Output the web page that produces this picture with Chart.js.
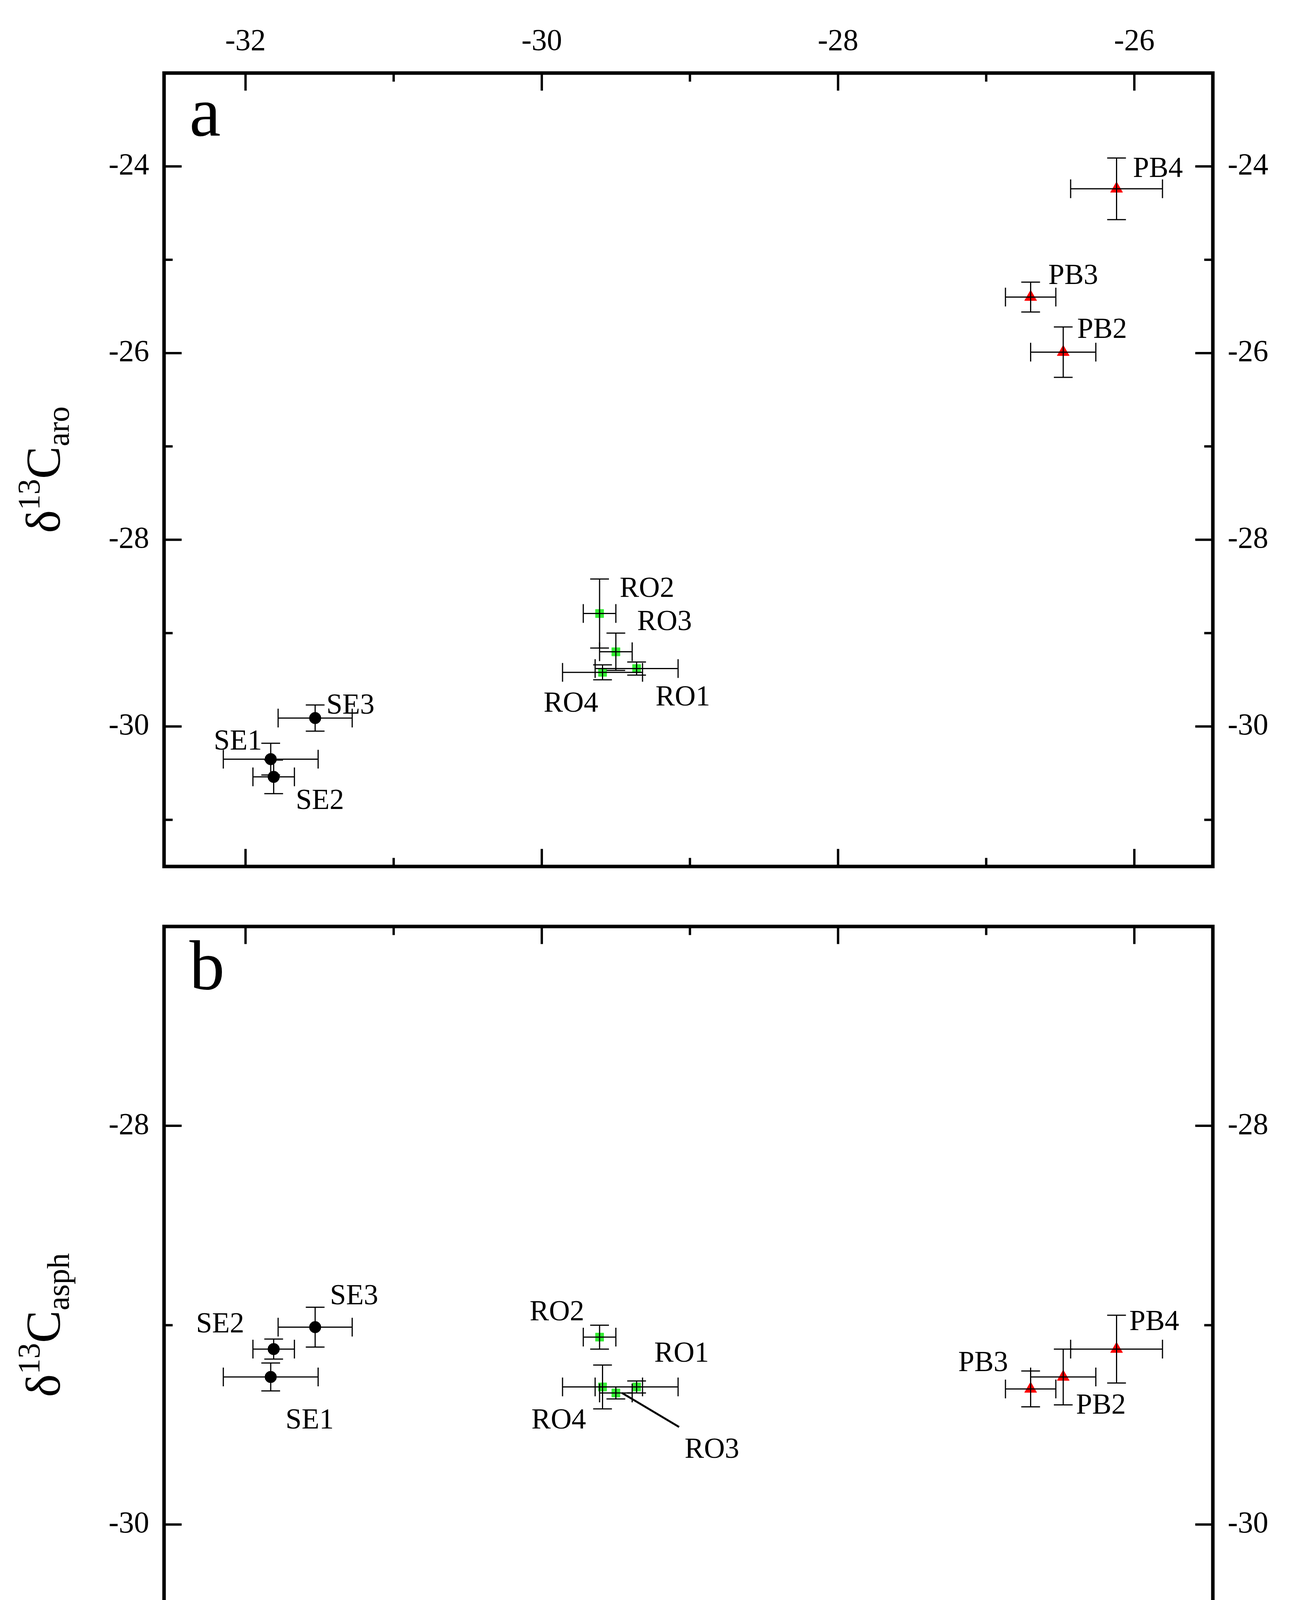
<!DOCTYPE html>
<html>
<head>
<meta charset="utf-8">
<script src="https://cdn.jsdelivr.net/npm/chart.js@4.4.1/dist/chart.umd.min.js"></script>
<style>
  body { margin: 0; background: #fff; }
  canvas { position: absolute; left: 0; }
  #cA { top: 0; }
  #cB { top: 2295px; }
</style>
</head>
<body>
<canvas id="cA" width="3323" height="2295" style="width:3323px;height:2295px"></canvas>
<canvas id="cB" width="3323" height="2599" style="width:3323px;height:2599px"></canvas>
<script>
// samples, in plotting order
var names = ['SE1', 'SE2', 'SE3', 'RO1', 'RO2', 'RO3', 'RO4', 'PB2', 'PB3', 'PB4'];
var groups = ['SE', 'SE', 'SE', 'RO', 'RO', 'RO', 'RO', 'PB', 'PB', 'PB'];
var dSat = [-31.83, -31.81, -31.53, -29.36, -29.61, -29.50, -29.59, -26.48, -26.70, -26.12];
var dSatErr = [0.32, 0.14, 0.25, 0.28, 0.11, 0.11, 0.27, 0.22, 0.17, 0.31];
var dAro = [-30.35, -30.54, -29.91, -29.38, -28.79, -29.20, -29.42, -25.99, -25.40, -24.24];
var dAroErr = [0.17, 0.18, 0.14, 0.07, 0.37, 0.20, 0.08, 0.27, 0.16, 0.33];
var dAsph = [-29.26, -29.12, -29.01, -29.31, -29.06, -29.34, -29.31, -29.26, -29.32, -29.12];
var dAsphErr = [0.07, 0.05, 0.10, 0.03, 0.06, 0.03, 0.11, 0.14, 0.09, 0.17];

var xTicks = [-32, -31, -30, -29, -28, -27, -26];
var yTicksA = [-31, -30, -29, -28, -27, -26, -25, -24];
var yTicksB = [-31, -30, -29, -28, -27];

var S = 3.114;
// label offsets from point (reference px units)
var labA = [[-27, -14], [38, 20], [29, -10], [38, 24], [39, -20], [40, -24], [-26, 26], [32, -18], [35, -17], [34, -16]];
var labB = [[32, 36], [-44, -20], [32, -25], [37, -27], [-35, -20], [79, 47], [-36, 28], [31, 24], [-39, -21], [31, -22]];

var styles = {
  SE: { pointStyle: 'circle', color: '#000000', r: 15 },
  RO: { pointStyle: 'rect', color: '#33ee33', r: 15 },
  PB: { pointStyle: 'triangle', color: '#ff0000', r: 18 }
};
var FONT = '"Liberation Serif", "DejaVu Serif", serif';

function datasets(yv) {
  return ['SE', 'RO', 'PB'].map(function (g) {
    var pts = [];
    names.forEach(function (n, i) { if (groups[i] === g) pts.push({ x: dSat[i], y: yv[i] }); });
    return {
      data: pts, pointStyle: styles[g].pointStyle, pointRadius: styles[g].r,
      backgroundColor: styles[g].color, borderColor: styles[g].color, borderWidth: 1
    };
  });
}

function fixed(size) { return function (s) { if (s.isHorizontal()) s.height = size; else s.width = size; }; }

function panelPlugin(yv, ye, labs, letter, yTicks, yTitle, bottom) {
  return {
    id: 'panel',
    afterDatasetsDraw: function (chart) {
      var c = chart.ctx, a = chart.chartArea, x = chart.scales.x, y = chart.scales.y;
      c.save();
      // error bars
      c.strokeStyle = '#000'; c.lineWidth = 3;
      var cap = 24;
      names.forEach(function (n, i) {
        var px = x.getPixelForValue(dSat[i]), py = y.getPixelForValue(yv[i]);
        var x0 = x.getPixelForValue(dSat[i] - dSatErr[i]), x1 = x.getPixelForValue(dSat[i] + dSatErr[i]);
        var y0 = y.getPixelForValue(yv[i] - ye[i]), y1 = y.getPixelForValue(yv[i] + ye[i]);
        c.beginPath();
        c.moveTo(x0, py); c.lineTo(x1, py);
        c.moveTo(x0, py - cap); c.lineTo(x0, py + cap);
        c.moveTo(x1, py - cap); c.lineTo(x1, py + cap);
        c.moveTo(px, y0); c.lineTo(px, y1);
        c.moveTo(px - cap, y0); c.lineTo(px + cap, y0);
        c.moveTo(px - cap, y1); c.lineTo(px + cap, y1);
        c.stroke();
      });
      // labels
      c.fillStyle = '#000'; c.font = '74px ' + FONT;
      c.textAlign = 'center'; c.textBaseline = 'middle';
      names.forEach(function (n, i) {
        var px = x.getPixelForValue(dSat[i]), py = y.getPixelForValue(yv[i]);
        c.fillText(n, px + labs[i][0] * S, py + labs[i][1] * S);
        if (bottom && n === 'RO3') {
          c.lineWidth = 5;
          c.beginPath(); c.moveTo(px + 5 * S, py); c.lineTo(px + 52 * S, py + 28 * S); c.stroke();
        }
      });
      // frame
      c.lineWidth = 9;
      c.strokeRect(a.left, a.top, a.right - a.left, a.bottom - a.top);
      // inward ticks
      c.lineWidth = 6;
      c.beginPath();
      xTicks.forEach(function (v) {
        var L = v % 2 === 0 ? 45 : 22, p = x.getPixelForValue(v);
        c.moveTo(p, a.top); c.lineTo(p, a.top + L);
        c.moveTo(p, a.bottom); c.lineTo(p, a.bottom - L);
      });
      yTicks.forEach(function (v) {
        var L = v % 2 === 0 ? 45 : 22, p = y.getPixelForValue(v);
        c.moveTo(a.left, p); c.lineTo(a.left + L, p);
        c.moveTo(a.right, p); c.lineTo(a.right - L, p);
      });
      c.stroke();
      // panel letter
      c.font = '180px ' + FONT; c.textAlign = 'left'; c.textBaseline = 'alphabetic';
      c.fillText(letter, a.left + 65, a.top + 160);
      // y title
      c.save();
      c.translate(120, (a.top + a.bottom) / 2);
      c.rotate(-Math.PI / 2);
      drawSymbol(c, yTitle, 0, 0);
      c.restore();
      if (bottom) drawSymbol(c, 'sat', (a.left + a.right) / 2, a.bottom + 365);
      c.restore();
    }
  };
}

function drawSymbol(c, sub, cx, cy) {
  var big = '125px ' + FONT, small = '80px ' + FONT;
  c.font = big; var w1 = c.measureText('\u03b4').width, w3 = c.measureText('C').width;
  c.font = small; var w2 = c.measureText('13').width, w4 = c.measureText(sub).width;
  var x = cx - (w1 + w2 + w3 + w4) / 2;
  c.textAlign = 'left'; c.textBaseline = 'middle';
  c.font = big; c.fillText('\u03b4', x, cy); x += w1;
  c.font = small; c.fillText('13', x, cy - 40); x += w2;
  c.font = big; c.fillText('C', x, cy); x += w3;
  c.font = small; c.fillText(sub, x, cy + 35);
}

function makeChart(id, yv, ye, labs, letter, yMin, yMax, yTicks, yTitle, bottom) {
  var tickFont = { family: FONT, size: 78 };
  var tickCb = function (v) { return v % 2 === 0 ? String(v) : ''; };
  var mkTicks = function (list) { return function (s) { s.ticks = list.map(function (v) { return { value: v }; }); }; };
  var yScale = function (pos) {
    return {
      type: 'linear', position: pos, min: yMin, max: yMax,
      afterBuildTicks: mkTicks(yTicks), afterFit: fixed(pos === 'left' ? 420 : 218),
      grid: { display: false }, border: { display: false },
      ticks: { font: tickFont, color: '#000', callback: tickCb, padding: 30 }
    };
  };
  var y2 = yScale('right'); y2.afterDataLimits = function (s) { s.min = yMin; s.max = yMax; };
  return new Chart(document.getElementById(id), {
    type: 'scatter',
    data: { datasets: datasets(yv) },
    options: {
      responsive: false, animation: false, devicePixelRatio: 1,
      layout: { padding: bottom ? { top: 12 } : { bottom: 12 } },
      plugins: { legend: { display: false }, tooltip: { enabled: false } },
      scales: {
        x: {
          type: 'linear', position: bottom ? 'bottom' : 'top', min: -32.55, max: -25.47,
          afterBuildTicks: mkTicks(xTicks), afterFit: fixed(bottom ? 481 : 187),
          grid: { display: false }, border: { display: false },
          ticks: { font: tickFont, color: '#000', callback: tickCb, padding: 25, maxRotation: 0 }
        },
        y: yScale('left'),
        y2: y2
      }
    },
    plugins: [panelPlugin(yv, ye, labs, letter, yTicks, yTitle, bottom)]
  });
}

makeChart('cA', dAro, dAroErr, labA, 'a', -31.5, -23.0, yTicksA, 'aro', false);
makeChart('cB', dAsph, dAsphErr, labB, 'b', -31.0, -27.0, yTicksB, 'asph', true);
</script>
</body>
</html>
